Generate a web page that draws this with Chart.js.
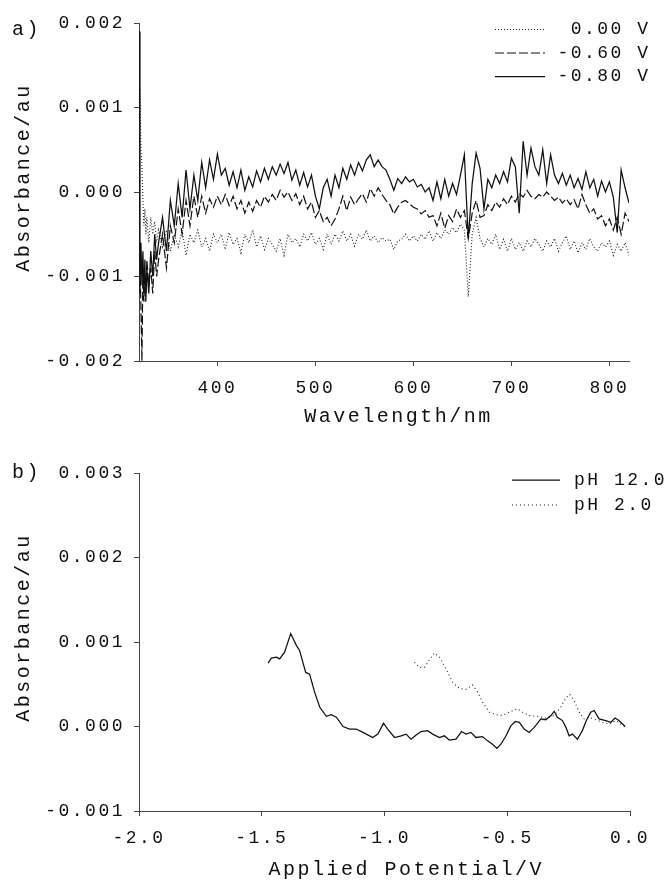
<!DOCTYPE html>
<html><head><meta charset="utf-8">
<script src="https://cdn.jsdelivr.net/npm/chart.js@4.4.1/dist/chart.umd.min.js"></script>
<style>
html,body{margin:0;padding:0;background:#fff;}
#wrap{position:relative;width:665px;height:881px;background:#fff;}
canvas{position:absolute;left:0;}
#ca{top:0;} #cb{top:440px;}
</style></head><body>
<div id="wrap"><canvas id="ca" width="665" height="440"></canvas><canvas id="cb" width="665" height="441"></canvas></div>
<script>
// ---------- Panel a: spectra ----------
const wavelengths = [320,321,322,323,324,325,326,327,328,330,332,334,336,338,
340,344,348,352,356,360,364,368,372,376,
380,384,388,392,396,400,404,408,412,416,
420,424,428,432,436,440,444,448,452,456,
460,464,468,472,476,480,484,488,492,496,
500,504,508,512,516,520,524,528,532,536,
540,544,548,552,556,560,564,568,572,576,
580,584,588,592,596,600,604,608,612,616,
620,624,628,632,636,640,644,648,652,656,
660,664,668,672,676,680,684,688,692,696,
700,704,708,712,716,720,724,728,732,736,
740,744,748,752,756,760,764,768,772,776,
780,784,788,792,796,800,804,808,812,816,
820];
const absM080 = [0.0019,-0.0012,-0.0006,-0.0011,-0.0007,-0.0012,-0.0008,-0.0013,-0.0009,-0.0012,-0.0007,-0.0010,-0.0005,-0.0008,
-0.0006,-0.0003,-0.0007,-0.0001,-0.0004,0.0001,-0.0003,0.00026,-0.0002,0.0002,
-0.0001,0.00035,0.00005,0.00038,0.00015,0.00045,0.0002,0.00028,0.00008,0.00024,
0.00005,0.00026,0.00002,0.00018,0.00006,0.00025,0.00012,0.00028,0.00015,0.0003,
0.0002,0.00033,0.00022,0.00035,0.00014,0.00026,0.00008,0.00023,0.00006,0.0002,
-0.00005,-0.0002,0.00005,0.00015,-0.00005,0.0002,0.00005,0.00028,0.00015,0.00032,
0.0002,0.00035,0.00025,0.00038,0.00044,0.0003,0.00038,0.0003,0.00026,0.00015,
0.00002,0.00016,0.0001,0.00018,0.00012,0.00015,0.00006,0.00009,0,0.00005,
-0.0001,0.00012,-0.00008,0.00015,-0.00005,0.0001,-0.00003,0.0002,0.00044,-0.00055,
0.0001,0.00046,0.00028,-0.0002,0.00015,0.00005,0.0002,0.0001,0.00024,0.00012,
0.0004,0.0003,-0.00025,0.0006,0.0002,0.00052,0.0003,0.0002,0.0005,0.0001,
0.00044,0.0002,0.0001,0.00022,0.00008,0.0002,0.00005,0.00016,0.00003,0.00024,
0.00005,0.00015,-0.00005,0.00013,0,0.00012,-0.00006,-0.00048,0.00026,0.00005,
-0.00013];
const absM060 = [-0.0003,-0.0008,-0.0014,-0.0020,-0.0009,-0.0013,-0.0010,-0.0012,-0.0008,-0.0011,-0.0009,-0.0012,-0.0007,-0.0010,
-0.0008,-0.0005,-0.0009,-0.0004,-0.0006,-0.0002,-0.0005,-0.0001,-0.0004,-0.00005,
-0.0003,-0.00005,-0.00025,-0.00008,-0.00018,-0.00005,-0.00015,-0.00003,-0.00016,-0.00005,
-0.0002,-0.0001,-0.00025,-0.00012,-0.00023,-0.0001,-0.00018,-0.00005,-0.00012,-0.00003,
-0.0001,0.00002,-0.00006,0,-0.0001,-0.00002,-0.00015,-0.00005,-0.0002,-0.00012,
-0.0003,-0.00022,-0.00035,-0.0003,-0.0004,-0.00032,-0.0002,-0.00005,-0.00022,-0.00006,
-0.00015,-0.00008,-0.00002,-0.00012,0.00004,-0.00005,0.00005,-0.00003,-0.0001,-0.00015,
-0.00026,-0.00018,-0.00012,-0.0001,-0.00014,-0.00018,-0.0002,-0.00026,-0.00022,-0.0003,
-0.00028,-0.0004,-0.00025,-0.00043,-0.00028,-0.00035,-0.0002,-0.0003,-0.00022,-0.00055,
-0.00025,-0.0001,-0.0003,-0.00028,-0.00015,-0.00022,-0.00012,-0.00018,-0.00008,-0.00015,
-0.00005,-0.00012,-0.00002,-0.00006,0.00002,-0.00005,-0.00008,-0.00003,-0.00006,0,
-0.00005,-0.0001,-0.00006,-0.00013,-0.00008,-0.00015,-0.00009,-0.0002,-0.00003,-0.00015,
-0.00025,-0.0002,-0.00032,-0.00028,-0.0004,-0.00032,-0.00045,-0.0003,-0.0005,-0.00025,
-0.00035];
const abs000 = [0.0002,0.0012,0.0005,0.0003,-0.0001,-0.0004,-0.0002,-0.0005,-0.0003,-0.0006,-0.0003,-0.0005,-0.00035,-0.0006,
-0.00045,-0.00065,-0.00045,-0.0007,-0.0005,-0.00065,-0.00045,-0.00075,-0.0005,-0.0006,
-0.00045,-0.00065,-0.00055,-0.0007,-0.0005,-0.0006,-0.0005,-0.00068,-0.00048,-0.00062,
-0.00055,-0.00072,-0.0005,-0.0006,-0.00045,-0.00065,-0.00052,-0.00068,-0.00055,-0.00062,
-0.0007,-0.00055,-0.00075,-0.0005,-0.0006,-0.00055,-0.00065,-0.0005,-0.00058,-0.00048,
-0.00062,-0.00055,-0.00068,-0.0005,-0.00062,-0.0005,-0.00058,-0.00046,-0.00058,-0.0005,
-0.00064,-0.0005,-0.00056,-0.00045,-0.00058,-0.00052,-0.0006,-0.00054,-0.00058,-0.00056,
-0.00068,-0.00058,-0.00056,-0.0005,-0.00058,-0.00052,-0.00058,-0.0005,-0.00056,-0.00046,
-0.00058,-0.00048,-0.00055,-0.00045,-0.0005,-0.00042,-0.00048,-0.00038,-0.00045,-0.00124,
-0.0005,-0.0003,-0.00055,-0.00065,-0.00055,-0.00062,-0.0005,-0.00068,-0.00056,-0.0007,
-0.00055,-0.00068,-0.0006,-0.0007,-0.00058,-0.00065,-0.00055,-0.00062,-0.0007,-0.00058,
-0.00065,-0.00055,-0.0007,-0.0006,-0.00052,-0.00068,-0.00058,-0.00072,-0.0006,-0.00068,
-0.00055,-0.00065,-0.0007,-0.0006,-0.00065,-0.00058,-0.00075,-0.00062,-0.0007,-0.0006,
-0.00075];
const seriesLabelsA = ["0.00 V", "-0.60 V", "-0.80 V"];
const wavelengthTicks = [400, 500, 600, 700, 800];
const absTicksA = [-0.002, -0.001, 0.000, 0.001, 0.002];

// ---------- Panel b: absorbance vs potential ----------
const potentialPH12 = [-1.474,-1.461,-1.440,-1.427,-1.407,-1.382,-1.359,-1.346,-1.321,-1.305,
-1.285,-1.264,-1.237,-1.217,-1.196,-1.169,-1.142,-1.115,-1.088,-1.048,
-1.027,-1.004,-0.987,-0.959,-0.932,-0.912,-0.892,-0.871,-0.851,-0.824,
-0.804,-0.776,-0.756,-0.736,-0.709,-0.686,-0.668,-0.648,-0.628,-0.601,
-0.580,-0.560,-0.542,-0.526,-0.505,-0.485,-0.467,-0.451,-0.431,-0.411,
-0.390,-0.363,-0.343,-0.322,-0.309,-0.296,-0.275,-0.261,-0.248,-0.235,
-0.214,-0.194,-0.178,-0.160,-0.146,-0.126,-0.099,-0.078,-0.061,-0.045,
-0.020];
const absPH12 = [0.00075,0.00081,0.00082,0.00080,0.00088,0.00110,0.00096,0.00090,0.00064,0.00062,
0.00041,0.00023,0.00012,0.00014,0.00011,0.00000,-0.00003,-0.00003,-0.00007,-0.00013,
-0.00009,0.00004,-0.00003,-0.00013,-0.00011,-0.00009,-0.00015,-0.00010,-0.00006,-0.00005,
-0.00009,-0.00013,-0.00011,-0.00016,-0.00015,-0.00006,-0.00009,-0.00007,-0.00013,-0.00012,
-0.00017,-0.00021,-0.00026,-0.00021,-0.00011,0.00001,0.00006,0.00005,-0.00003,-0.00007,
-0.00001,0.00009,0.00008,0.00013,0.00018,0.00011,0.00007,-0.00001,-0.00011,-0.00009,
-0.00015,-0.00005,0.00007,0.00017,0.00019,0.00009,0.00007,0.00005,0.00010,0.00007,
0.00000];
const potentialPH2 = [-0.878,-0.858,-0.837,-0.817,-0.797,-0.776,-0.749,-0.722,-0.695,-0.668,
-0.641,-0.621,-0.601,-0.573,-0.546,-0.519,-0.492,-0.458,-0.438,-0.411,
-0.377,-0.343,-0.309,-0.282,-0.261,-0.245,-0.228,-0.207,-0.187,-0.167,
-0.140,-0.112,-0.085,-0.058,-0.038,-0.020];
const absPH2 = [0.00076,0.00070,0.00070,0.00079,0.00087,0.00082,0.00068,0.00052,0.00045,0.00044,
0.00049,0.00041,0.00029,0.00017,0.00014,0.00013,0.00017,0.00021,0.00017,0.00013,
0.00012,0.00010,0.00013,0.00023,0.00034,0.00038,0.00031,0.00017,0.00009,0.00011,
0.00008,0.00005,0.00003,0.00007,0.00003,0.00000];
const seriesLabelsB = ["pH 12.0", "pH 2.0"];
const potentialTicks = [-2.0, -1.5, -1.0, -0.5, 0.0];
const absTicksB = [-0.001, 0.000, 0.001, 0.002, 0.003];

// ---------- styling ----------
const FONT = "'Courier New', Courier, 'Liberation Mono', monospace";
const INK = '#111';
const AXIS = '#444';
const SPACING = 2.5;
Chart.defaults.font.family = FONT;
Chart.defaults.color = INK;

function pts(xs, ys) { return xs.map((x, i) => ({x: x, y: ys[i]})); }
function fixedTicks(list) { return s => { s.ticks = list.map(v => ({value: v})); }; }

function axisX(title, tickList, min, max, digits, height, titlePad) {
  return {
    type: 'linear', min: min, max: max,
    afterBuildTicks: fixedTicks(tickList),
    afterFit: s => { s.height = height; },
    border: {display: true, color: AXIS, width: 1},
    grid: {display: true, drawOnChartArea: false, drawTicks: true, tickLength: 5, color: AXIS},
    ticks: {autoSkip: false, maxRotation: 0, padding: 11, color: INK,
            font: {size: 18, lineHeight: 1.2}, callback: v => v.toFixed(digits)},
    title: {display: true, text: title, color: INK, font: {size: 20, lineHeight: 1.0},
            padding: {top: 0, bottom: titlePad}}
  };
}
function axisY(title, tickList, min, max) {
  return {
    type: 'linear', min: min, max: max,
    afterBuildTicks: fixedTicks(tickList),
    afterFit: s => { s.width = 139; },
    border: {display: true, color: AXIS, width: 1},
    grid: {display: true, drawOnChartArea: false, drawTicks: true, tickLength: 5, color: AXIS},
    ticks: {padding: 9, color: INK, font: {size: 18, lineHeight: 1.2},
            callback: v => (Math.abs(v) < 1e-12 ? 0 : v).toFixed(3)},
    title: {display: true, text: '  ' + title, color: INK, font: {size: 20, lineHeight: 1.0},
            padding: {top: 14, bottom: 0}}
  };
}

function decorPlugin(panelLabel, labelY, legend) {
  return {
    id: 'decor',
    beforeDraw(chart) { chart.ctx.letterSpacing = SPACING + 'px'; },
    afterDraw(chart) {
      const ctx = chart.ctx;
      ctx.save();
      ctx.letterSpacing = SPACING + 'px';
      ctx.fillStyle = INK;
      ctx.font = '20px ' + FONT;
      ctx.textBaseline = 'alphabetic';
      ctx.textAlign = 'left';
      ctx.fillText(panelLabel, 12, labelY);
      ctx.font = '18px ' + FONT;
      legend.order.forEach((dsIndex, row) => {
        const ds = chart.data.datasets[dsIndex];
        const y = legend.y0 + row * legend.dy;
        ctx.beginPath();
        ctx.setLineDash(ds.borderDash || []);
        ctx.lineWidth = ds.borderWidth;
        ctx.strokeStyle = ds.borderColor;
        ctx.moveTo(legend.x0, y);
        ctx.lineTo(legend.x1, y);
        ctx.stroke();
        ctx.setLineDash([]);
        ctx.textBaseline = 'middle';
        if (legend.align === 'right') { ctx.textAlign = 'right'; ctx.fillText(ds.label, legend.tx + SPACING, y); }
        else { ctx.textAlign = 'left'; ctx.fillText(ds.label, legend.tx, y); }
      });
      ctx.restore();
    }
  };
}

const common = {
  responsive: false, animation: false, devicePixelRatio: 1,
  plugins: {legend: {display: false}, tooltip: {enabled: false}},
  elements: {point: {radius: 0}, line: {tension: 0}}
};

new Chart(document.getElementById('ca'), {
  type: 'line',
  data: {datasets: [
    {label: seriesLabelsA[0], data: pts(wavelengths, abs000), borderColor: '#222', borderWidth: 1.1, borderDash: [1, 2], fill: false},
    {label: seriesLabelsA[1], data: pts(wavelengths, absM060), borderColor: '#111', borderWidth: 1.2, borderDash: [9, 3], fill: false},
    {label: seriesLabelsA[2], data: pts(wavelengths, absM080), borderColor: '#111', borderWidth: 1.25, fill: false}
  ]},
  options: Object.assign({}, common, {
    layout: {padding: {left: 0, right: 36, top: 23, bottom: 0}},
    scales: {
      x: axisX('  Wavelength/nm', wavelengthTicks, 320, 820, 0, 79, 13),
      y: axisY('Absorbance/au', absTicksA, -0.002, 0.002)
    }
  }),
  plugins: [decorPlugin('a)', 35, {order: [0, 1, 2], y0: 29.5, dy: 23.5, x0: 495, x1: 545, tx: 648, align: 'right'})]
});

new Chart(document.getElementById('cb'), {
  type: 'line',
  data: {datasets: [
    {label: seriesLabelsB[0], data: pts(potentialPH12, absPH12), borderColor: '#111', borderWidth: 1.25, fill: false},
    {label: seriesLabelsB[1], data: pts(potentialPH2, absPH2), borderColor: '#222', borderWidth: 1.1, borderDash: [1, 3], fill: false}
  ]},
  options: Object.assign({}, common, {
    layout: {padding: {left: 0, right: 35, top: 33, bottom: 0}},
    scales: {
      x: axisX('   Applied Potential/V', potentialTicks, -2.0, 0.0, 1, 70, 1),
      y: axisY('Absorbance/au', absTicksB, -0.001, 0.003)
    }
  }),
  plugins: [decorPlugin('b)', 38, {order: [0, 1], y0: 40, dy: 25, x0: 512, x1: 560, tx: 574, align: 'left'})]
});
</script>
</body></html>
